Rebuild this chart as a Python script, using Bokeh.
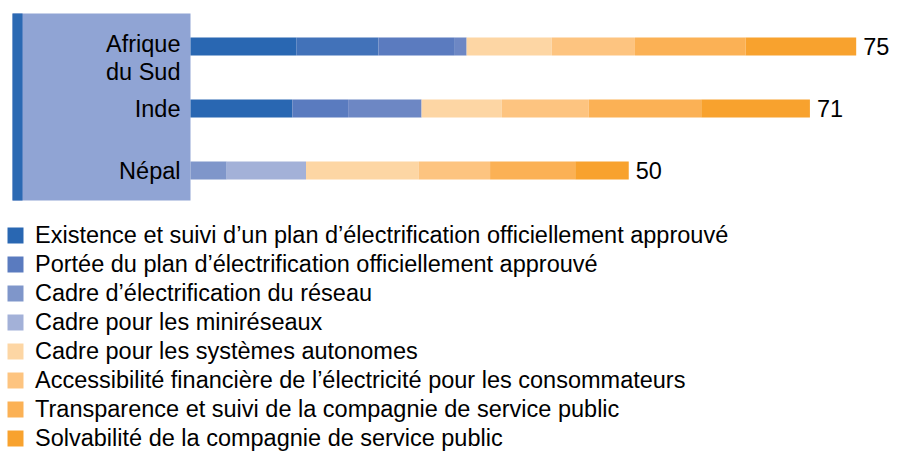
import numpy as np
from bokeh.plotting import figure
from bokeh.models import ColumnDataSource, Range1d, Legend, LegendItem, BoxAnnotation
from bokeh.core.properties import value
from bokeh.embed import file_html
from bokeh.resources import INLINE

# ---------------- data ----------------
COUNTRIES = ["Afrique du Sud", "Inde", "Népal"]
LABEL_LINES = [["Afrique", "du Sud"], ["Inde"], ["Népal"]]
TOTAL_LABELS = ["75", "71", "50"]

INDICATORS = [
    "Existence et suivi d\u2019un plan d\u2019électrification officiellement approuvé",
    "Portée du plan d\u2019électrification officiellement approuvé",
    "Cadre d\u2019électrification du réseau",
    "Cadre pour les miniréseaux",
    "Cadre pour les systèmes autonomes",
    "Accessibilité financière de l\u2019électricité pour les consommateurs",
    "Transparence et suivi de la compagnie de service public",
    "Solvabilité de la compagnie de service public",
]

existence = [11.95, 11.50, 0.00]
portee = [9.29, 6.31, 0.00]
cadre_reseau = [8.63, 8.30, 4.09]
cadre_mini = [1.33, 0.00, 8.96]
cadre_autonomes = [9.62, 9.07, 12.72]
accessibilite = [9.40, 9.81, 8.08]
transparence = [12.50, 12.72, 9.62]
solvabilite = [12.50, 12.28, 6.05]

SERIES = [existence, portee, cadre_reseau, cadre_mini,
          cadre_autonomes, accessibilite, transparence, solvabilite]

# ---------------- styles ----------------
BAR_COLORS = [
    ["#2967b2", "#2967b2", "#2967b2"],
    ["#4272b9", "#5a7bbf", "#5a7bbf"],
    ["#5b7bbf", "#6d87c4", "#7f96ca"],
    ["#6d87c4", "#6d87c4", "#a3b1d8"],
    ["#fdd6a4", "#fdd6a4", "#fdd6a4"],
    ["#fdc480", "#fdc480", "#fdc480"],
    ["#fbb155", "#fbb155", "#fbb155"],
    ["#f8a22e", "#f8a22e", "#f8a22e"],
]
LEGEND_ROW = [0, 1, 2, 2, 0, 0, 0, 0]
PANEL_COLOR = "#90a4d4"
STRIP_COLOR = "#2b69b3"
FONT = "Liberation Sans"
FSIZE = "23.5px"

W, H = 890, 454
X0_PX = 190          # pixel of score 0
PX_PER_UNIT = 8.85
Y0_PX = 46           # pixel of first bar centre
PX_PER_ROW = 62.0
BAR_H_PX = 18


def xd(px):
    return (px - X0_PX) / PX_PER_UNIT


def yd(px):
    return (px - Y0_PX) / PX_PER_ROW


p = figure(width=W, height=H,
           x_range=Range1d(xd(0), xd(W)),
           y_range=Range1d(yd(H), yd(0)),
           output_backend="svg", toolbar_location=None, min_border=0,
           x_axis_location=None, y_axis_location=None)
p.grid.visible = False
p.outline_line_color = None
p.background_fill_color = "white"

# side panel behind the category labels
p.add_layout(BoxAnnotation(left=xd(12), right=xd(190), top=yd(13), bottom=yd(200),
                           fill_color=PANEL_COLOR, fill_alpha=1, line_color=None,
                           level="underlay"))
p.add_layout(BoxAnnotation(left=xd(12), right=xd(22), top=yd(13), bottom=yd(200),
                           fill_color=STRIP_COLOR, fill_alpha=1, line_color=None,
                           level="underlay"))

ys = list(range(len(COUNTRIES)))
left = np.zeros(len(COUNTRIES))
renderers = []
for vals, cols in zip(SERIES, BAR_COLORS):
    v = np.array(vals, dtype=float)
    src = ColumnDataSource(dict(y=ys, left=left.copy(), right=left + v, color=cols))
    r = p.hbar(y="y", left="left", right="right", height=BAR_H_PX / PX_PER_ROW,
               fill_color="color", line_color=None, source=src)
    renderers.append(r)
    left = left + v

# value labels at bar ends
p.text(x=list(left), y=ys, text=TOTAL_LABELS, x_offset=7,
       text_align="left", text_baseline="middle",
       text_font=value(FONT), text_font_size=value(FSIZE), text_color="#000000")

# category labels (multi-line)
lx, ly, lt, lo = [], [], [], []
for i, lines in enumerate(LABEL_LINES):
    base = -3 if len(lines) > 1 else 0
    for j, t in enumerate(lines):
        lx.append(0)
        ly.append(i)
        lt.append(t)
        lo.append(base + j * 28.5)
p.text(x=lx, y=ly, text=lt, x_offset=-10, y_offset=lo,
       text_align="right", text_baseline="middle",
       text_font=value(FONT), text_font_size=value(FSIZE), text_color="#000000")

items = [LegendItem(label=name, renderers=[r], index=idx)
         for name, r, idx in zip(INDICATORS, renderers, LEGEND_ROW)]
legend = Legend(items=items, location=(5, 2.5), orientation="vertical",
                border_line_color=None, background_fill_alpha=0,
                padding=0, margin=0, spacing=2,
                glyph_width=20, glyph_height=20, label_standoff=10,
                label_text_font=FONT, label_text_font_size=FSIZE,
                label_text_color="#000000")
p.add_layout(legend)

open("out.html", "w").write(file_html(p, INLINE))
